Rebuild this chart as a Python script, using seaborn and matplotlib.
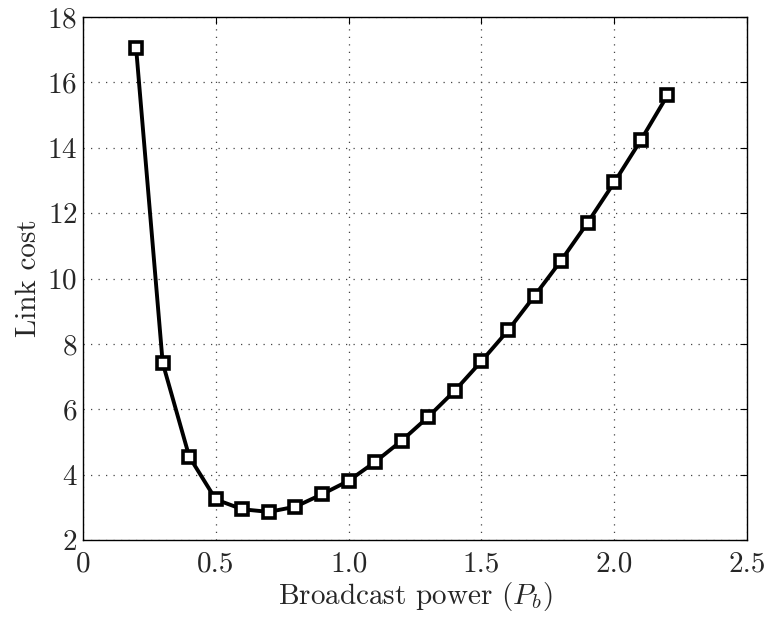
import matplotlib
matplotlib.use("Agg")
import matplotlib.pyplot as plt
import seaborn as sns
import pandas as pd

# Link cost as a function of broadcast power
broadcast_power = [0.2, 0.3, 0.4, 0.5, 0.6, 0.7, 0.8, 0.9, 1.0, 1.1, 1.2,
                   1.3, 1.4, 1.5, 1.6, 1.7, 1.8, 1.9, 2.0, 2.1, 2.2]
link_cost = [17.05, 7.42, 4.55, 3.24, 2.94, 2.86, 3.02, 3.40, 3.81, 4.39, 5.04,
             5.77, 6.57, 7.47, 8.41, 9.47, 10.55, 11.71, 12.94, 14.23, 15.60]
x_ticks = [0, 0.5, 1.0, 1.5, 2.0, 2.5]
x_tick_labels = ["0", "0.5", "1.0", "1.5", "2.0", "2.5"]
y_ticks = [2, 4, 6, 8, 10, 12, 14, 16, 18]

sns.set_style("white")
plt.rcParams["font.family"] = ["cmr10", "DejaVu Serif"]
plt.rcParams["mathtext.fontset"] = "cm"
plt.rcParams["axes.formatter.use_mathtext"] = True

df = pd.DataFrame({"power": broadcast_power, "cost": link_cost})

fig = plt.figure(figsize=(7.67, 6.17), dpi=100)
ax = fig.add_axes([0.1082, 0.1248, 0.8658, 0.8476])

sns.lineplot(data=df, x="power", y="cost", ax=ax, color="black", linewidth=2.8,
             marker="s", markersize=8, markerfacecolor="white",
             markeredgecolor="black", markeredgewidth=2.6)

ax.set_xlim(0, 2.5)
ax.set_ylim(2, 18)
ax.set_xticks(x_ticks)
ax.set_xticklabels(x_tick_labels)
ax.set_yticks(y_ticks)
ax.tick_params(direction="in", top=True, right=True, length=5, width=0.8,
               labelsize=21, color="black")
ax.tick_params(axis="x", pad=8)
ax.tick_params(axis="y", pad=4)
ax.grid(True, linestyle=(0, (1, 5)), color="#444444", linewidth=0.9)
for s in ax.spines.values():
    s.set_color("black")
    s.set_linewidth(1.0)

ax.set_xlabel(r"Broadcast power ($P_b$)", fontsize=21, labelpad=2)
ax.set_ylabel("Link cost", fontsize=21, labelpad=4)

fig.savefig("out.png", dpi=100, facecolor="white")
